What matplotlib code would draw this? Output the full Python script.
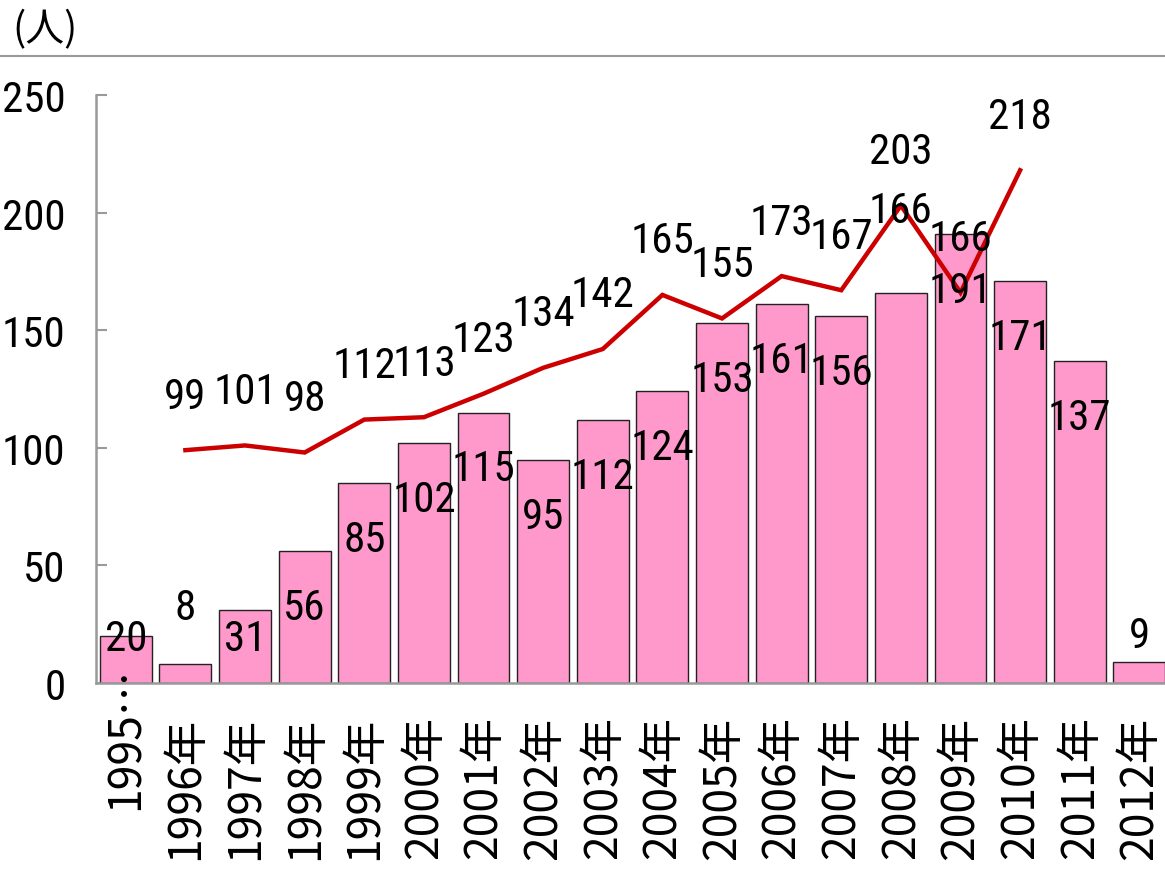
import matplotlib.pyplot as plt
from matplotlib.lines import Line2D

# data
years = ["1995…", "1996年", "1997年", "1998年", "1999年", "2000年", "2001年",
         "2002年", "2003年", "2004年", "2005年", "2006年", "2007年", "2008年",
         "2009年", "2010年", "2011年", "2012年"]
bar_values = [20, 8, 31, 56, 85, 102, 115, 95, 112, 124, 153, 161, 156, 166,
              191, 171, 137, 9]
line_values = [None, 99, 101, 98, 112, 113, 123, 134, 142, 165, 155, 173, 167,
               203, 166, 218, None, None]

num_font = ["Roboto Condensed", "Liberation Sans", "DejaVu Sans"]
jp_font = ["Noto Sans CJK JP", "DejaVu Sans"]

fig = plt.figure(figsize=(11.65, 8.79), dpi=100)
ax = fig.add_axes([96 / 1165, 1 - 684 / 879, 1 - 96 / 1165, 588 / 879])

xs = list(range(len(years)))
ax.bar(xs, bar_values, width=0.87, color="#FF99CC", edgecolor="#222222",
       linewidth=1.0, zorder=2)

lx = [x for x, v in zip(xs, line_values) if v is not None]
ly = [v for v in line_values if v is not None]
ax.plot(lx, ly, color="#CC0000", linewidth=3.2, zorder=3, solid_joinstyle="miter")

# bar labels (inside end, a few moved by hand like in the original)
label_shift = {1: 24, 13: 35, 17: 11}
for x, v in zip(xs, bar_values):
    if x in label_shift:
        y = v + label_shift[x]
    else:
        y = max(v - 24, 19)
    ax.text(x, y, str(v), ha="center", va="center", fontsize=31,
            family=num_font, zorder=4, clip_on=False)

for x, v in zip(lx, ly):
    ax.text(x, v + 23, str(v), ha="center", va="center", fontsize=31,
            family=num_font, zorder=4)

ax.set_xlim(-0.5, 17.43)
ax.set_ylim(0, 250)
ax.set_yticks([0, 50, 100, 150, 200, 250])
ax.tick_params(axis="y", direction="in", length=8, width=1.5, color="#999999",
               pad=22, labelsize=31)
for t in ax.get_yticklabels():
    t.set_family(num_font)
ax.set_xticks([])

for s in ["top", "right"]:
    ax.spines[s].set_visible(False)
for s in ["left", "bottom"]:
    ax.spines[s].set_color("#999999")
    ax.spines[s].set_linewidth(1.8)

# rotated category labels
for x, lab in zip(xs, years):
    ytop = 0.03 if x == 0 else -0.055
    ax.text(x, ytop, lab, rotation=90, ha="center", va="top", fontsize=32,
            family=jp_font, transform=ax.get_xaxis_transform(), clip_on=False)

fig.text(12 / 1165, 1 - 30 / 879, "(人)", ha="left", va="center", fontsize=28,
         family=jp_font)
fig.add_artist(Line2D([0, 1], [1 - 57 / 879, 1 - 57 / 879], color="#999999",
                      linewidth=1.5))

fig.savefig("out.png", dpi=100)
